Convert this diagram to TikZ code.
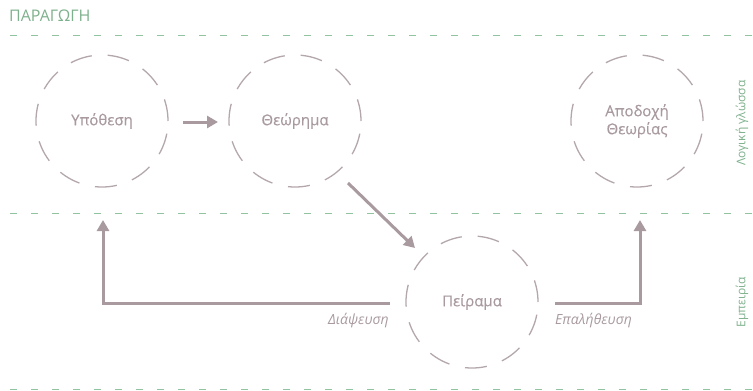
\documentclass[tikz,border=0pt]{standalone}
\usepackage{fontspec}
\setmainfont{Open Sans}
\usetikzlibrary{arrows.meta}
\definecolor{mauve}{HTML}{A89A9E}
\definecolor{circc}{HTML}{B3A7AB}
\definecolor{sage}{HTML}{7DB08C}
\definecolor{sepc}{HTML}{92C3A0}
\tikzset{
  circ/.style={circle,draw=circc,line width=1.3pt,dash pattern=on 22pt off 16pt,minimum size=132pt,inner sep=0pt,text=mauve,font=\fontsize{15}{18}\selectfont\addfontfeature{FakeBold=0.3},align=center},
  conn/.style={draw=mauve,line width=3pt,-{Triangle[length=11pt,width=12pt]}},
  sep/.style={draw=sepc,line width=1pt,dash pattern=on 7pt off 14pt},
  lbl/.style={text=mauve,font=\fontsize{14}{16}\selectfont\itshape,inner sep=0pt},
  side/.style={text=sage,font=\fontsize{12}{14}\selectfont,rotate=90,inner sep=0pt}
}
\begin{document}
\begin{tikzpicture}[x=1pt,y=-1pt]
\useasboundingbox (0,0) rectangle (753,391);
\node[anchor=base west,text=sage,font=\fontsize{16}{18}\selectfont,inner sep=0pt] (title) at (9,21) {ΠΑΡΑΓΩΓΗ};
\coordinate (l1a) at (10,35); \coordinate (l1b) at (753,35);
\coordinate (l2a) at (10,213); \coordinate (l2b) at (753,213);
\coordinate (l3a) at (10,389); \coordinate (l3b) at (753,389);
\draw[sep] (l1a) -- (l1b);
\draw[sep] (l2a) -- (l2b);
\draw[sep] (l3a) -- (l3b);
\node[circ] (hyp) at (102,121) {Υπόθεση};
\node[circ] (theo) at (295,121) {Θεώρημα};
\node[circ] (acc) at (637,121) {Αποδοχή\\Θεωρίας};
\node[circ] (exp) at (472,302) {Πείραμα};
\coordinate (a1s) at (183,122); \coordinate (a1e) at (218,122);
\draw[conn] (a1s) -- (a1e);
\coordinate (a2s) at (348,183); \coordinate (a2e) at (415,248);
\draw[conn] (a2s) -- (a2e);
\coordinate (fs) at (390,303); \coordinate (fc) at (103,303); \coordinate (fe) at (103,220);
\draw[conn] (fs) -- (fc) -- (fe);
\coordinate (vs) at (555,303); \coordinate (vc) at (640,303); \coordinate (ve) at (640,220);
\draw[conn] (vs) -- (vc) -- (ve);
\node[lbl,anchor=base east] (fals) at (389,324) {Διάψευση};
\node[lbl,anchor=base west] (verif) at (555,324) {Επαλήθευση};
\node[side] (logic) at (742,123) {Λογική γλώσσα};
\node[side] (emp) at (742,302) {Εμπειρία};
\end{tikzpicture}
\end{document}
